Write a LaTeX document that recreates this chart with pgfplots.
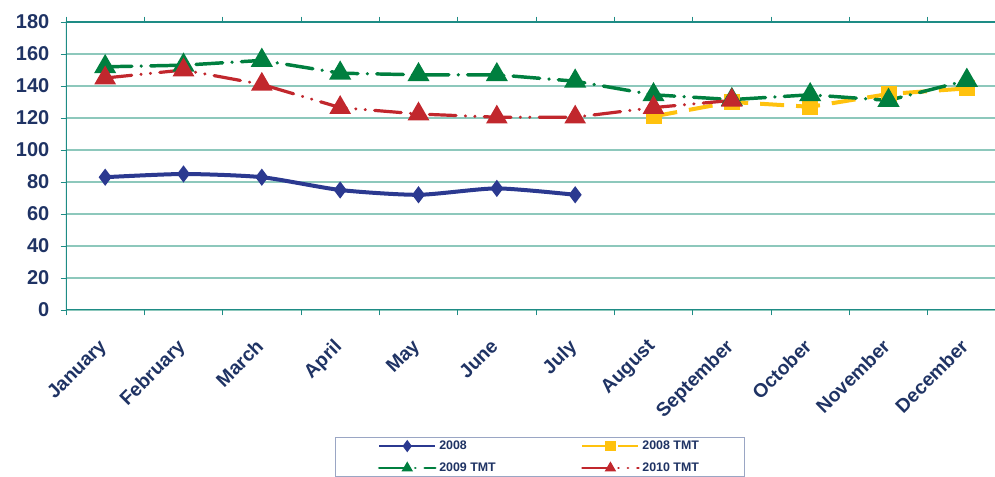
\documentclass[border=0pt]{standalone}
\usepackage{fontspec}
\setmainfont{Liberation Sans}
\usepackage{pgfplots}
\pgfplotsset{compat=1.18}
\definecolor{navy}{HTML}{2B3990}
\definecolor{tmtyellow}{HTML}{FFC20E}
\definecolor{tmtgreen}{HTML}{007F3F}
\definecolor{tmtred}{HTML}{C1272D}
\definecolor{labelblue}{HTML}{1F3364}
\definecolor{axisteal}{HTML}{1E8C85}
\definecolor{gridteal}{HTML}{8DC8BC}
\definecolor{legframe}{HTML}{9AA6C4}
\begin{document}
\begin{tikzpicture}
\begin{axis}[
    name=ax,
    scale only axis,
    width=705pt, height=216pt,
    xmin=-0.5, xmax=11.5,
    ymin=0, ymax=180,
    ytick={0,20,...,180},
    xtick={0,...,11},
    xticklabels={January,February,March,April,May,June,July,August,September,October,November,December},
    minor xtick={-0.5,0.5,...,11.5},
    major x tick style={draw=none},
    tick align=outside,
    major tick length=4pt, minor tick length=4pt,
    tick style={axisteal, line width=0.6pt},
    ymajorgrids,
    grid style={gridteal, line width=0.9pt},
    axis line style={draw=none},
    /pgf/number format/assume math mode=true,
    y tick label style={font=\bfseries\fontsize{15}{15}\selectfont, color=labelblue, xshift=-5pt},
    x tick label style={xshift=-5.5pt, yshift=-12pt, font=\bfseries\fontsize{14.5}{15}\selectfont, color=labelblue, rotate=45, anchor=north east},
    legend columns=2,
    legend style={at={(0.504,-0.441)}, anchor=north, draw=legframe, line width=0.6pt,
        font=\bfseries\fontsize{9.3}{10}\selectfont, text=labelblue,
        inner xsep=32pt, inner ysep=0.5pt, row sep=4.5pt,
        /tikz/every even column/.append style={column sep=62pt}},
    legend cell align=left,
    legend image code/.code={
        \draw[#1, line width=2pt, mark size=3pt, mark repeat=2, mark phase=2]
        plot coordinates {(0pt,0pt) (21pt,0pt) (42pt,0pt)};},
]
\addplot[navy, line width=3pt, smooth, tension=0.4, mark=diamond*, mark size=4pt]
    coordinates {(0,83) (1,85) (2,83) (3,75) (4,72) (5,76) (6,72)};
\addlegendentry{2008}
\addplot[tmtyellow, line width=3pt, dash pattern=on 18pt off 9pt, mark=square*, mark size=4.5pt, mark options={solid}]
    coordinates {(7,121) (8,130) (9,127) (10,135) (11,138.5)};
\addlegendentry{2008 TMT}
\addplot[tmtgreen, line width=2.6pt, line cap=round, dash pattern=on 20pt off 7pt on 0.1pt off 7pt, mark=triangle*, mark size=7pt, mark options={solid}]
    coordinates {(0,152) (1,153) (2,156) (3,148) (4,147) (5,147) (6,143) (7,134.5) (8,131.5) (9,134.5) (10,131) (11,143.5)};
\addlegendentry{2009 TMT}
\addplot[tmtred, line width=2.4pt, line cap=round, dash pattern=on 20pt off 7pt on 0.1pt off 7pt on 0.1pt off 7pt, mark=triangle*, mark size=7pt, mark options={solid}]
    coordinates {(0,145) (1,150) (2,141) (3,126.5) (4,122.5) (5,120.5) (6,120.5) (7,126.5) (8,131)};
\addlegendentry{2010 TMT}
\draw[axisteal, line width=1.6pt] (rel axis cs:1,1) -- (rel axis cs:0,1) -- (rel axis cs:0,0) -- (rel axis cs:1,0);
\end{axis}
\pgfresetboundingbox
\path[use as bounding box] (-49.5pt,-125.25pt) rectangle (696.75pt,232.5pt);
\end{tikzpicture}
\end{document}
